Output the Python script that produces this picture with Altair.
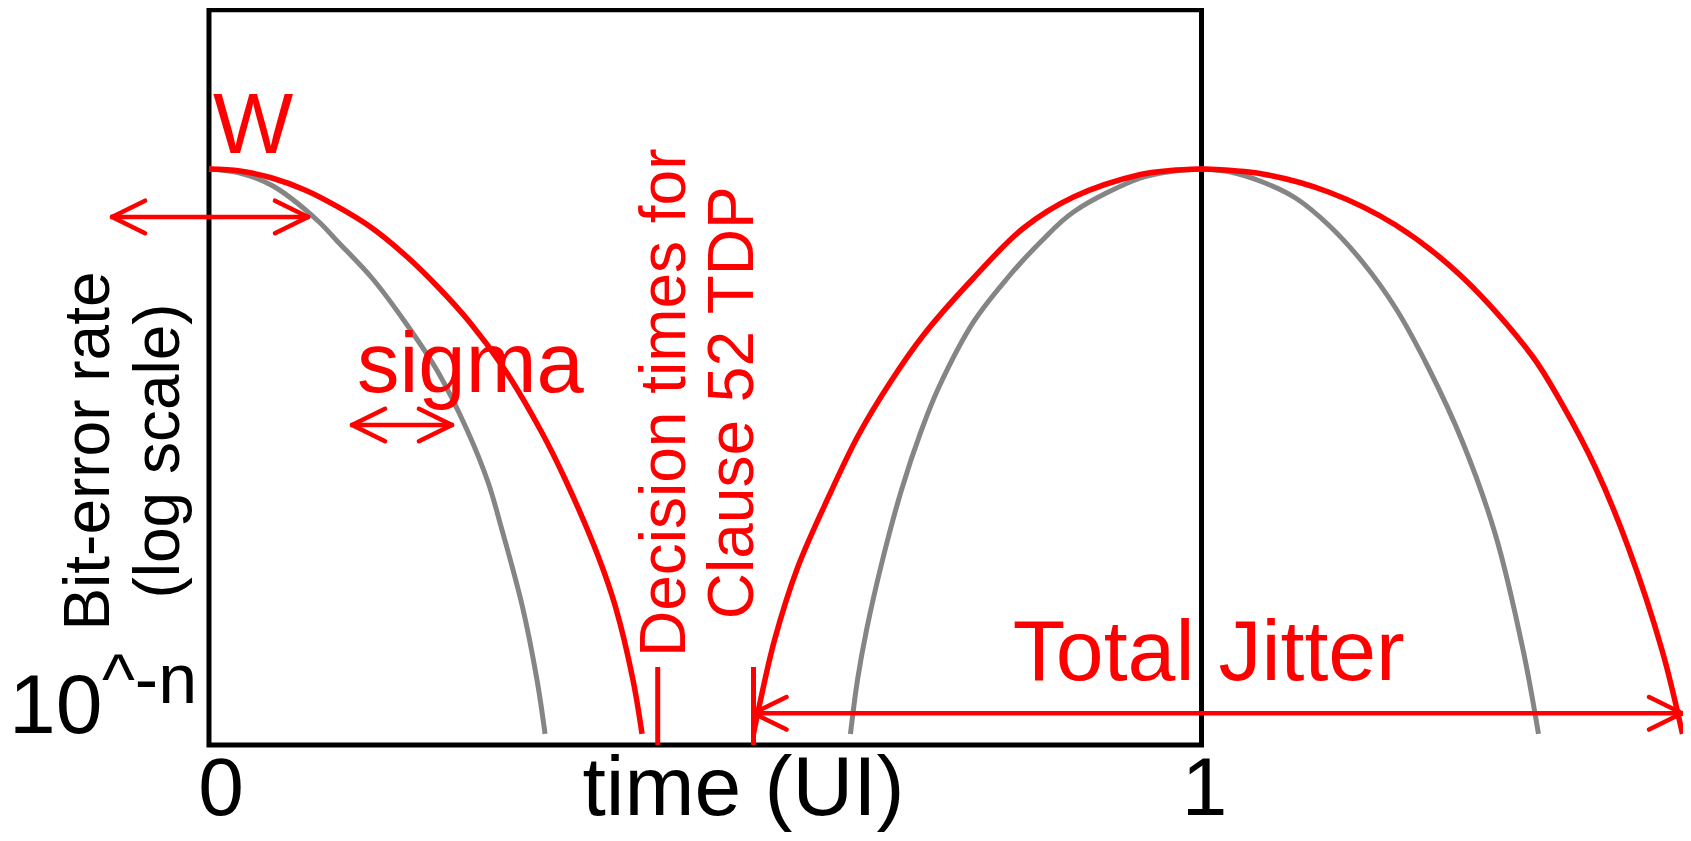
import altair as alt
import pandas as pd

# Data units: x = time in UI, y = relative log-BER level (0 = 10^-n floor, 1 = top of frame)
X_DOMAIN = [-0.2025, 1.4851]
Y_DOMAIN = [-0.1197, 1.0023]

# ---- bathtub curves ----
GRAY_L0_T = [0.0, 0.0312, 0.0645, 0.1088, 0.1300, 0.1642, 0.1975, 0.2307, 0.2600, 0.2811, 0.2952, 0.3154, 0.3305, 0.3386]
GRAY_L0_LVL = [0.7833, 0.7779, 0.7602, 0.7140, 0.6841, 0.6351, 0.5753, 0.5073, 0.4284, 0.3577, 0.2924, 0.1904, 0.0884, 0.0150]

RED_L0_T = [0.0, 0.0312, 0.0635, 0.0967, 0.1300, 0.1642, 0.1975, 0.2307, 0.2625, 0.2962, 0.3340, 0.3592, 0.3924, 0.4096, 0.4272, 0.4363]
RED_L0_LVL = [0.7833, 0.7806, 0.7711, 0.7548, 0.7317, 0.7031, 0.6664, 0.6229, 0.5753, 0.5141, 0.4284, 0.3604, 0.2557, 0.1877, 0.0884, 0.0150]

GRAY_R1L_T = [1.0, 0.9688, 0.9385, 0.8710, 0.8378, 0.8045, 0.7703, 0.7350, 0.7179, 0.6977, 0.6786, 0.6625, 0.6534, 0.6463]
GRAY_R1L_LVL = [0.7833, 0.7800, 0.7711, 0.7249, 0.6841, 0.6351, 0.5753, 0.4855, 0.4284, 0.3468, 0.2516, 0.1564, 0.0884, 0.0150]

RED_R1L_T = [1.0, 0.9688, 0.9385, 0.8710, 0.8207, 0.7703, 0.7199, 0.6866, 0.6544, 0.6242, 0.5929, 0.5698, 0.5557, 0.5486]
RED_R1L_LVL = [0.7833, 0.7813, 0.7759, 0.7453, 0.7031, 0.6351, 0.5576, 0.4937, 0.4216, 0.3373, 0.2407, 0.1428, 0.0612, 0.0150]

GRAY_R1R_T = [1.0, 1.0292, 1.0615, 1.0947, 1.1280, 1.1622, 1.1955, 1.2287, 1.2630, 1.2962, 1.3244, 1.3395]
GRAY_R1R_LVL = [0.7833, 0.7793, 0.7657, 0.7439, 0.7072, 0.6569, 0.5943, 0.5127, 0.4121, 0.2856, 0.1265, 0.0150]

RED_R1R_T = [1.0, 1.0615, 1.1280, 1.1955, 1.2605, 1.3325, 1.3637, 1.3970, 1.4302, 1.4645, 1.4846]
RED_R1R_LVL = [0.7833, 0.7766, 0.7521, 0.7072, 0.6392, 0.5304, 0.4624, 0.3767, 0.2679, 0.1265, 0.0150]

# ---- decision times (UI) and marker height ----
DECISION_T = [0.4521, 0.5486]
DECISION_TOP = 0.1061

# ---- arrows: tips and level in data units ----
ARROW_A = [-0.0977, 0.1441, 0.5486]
ARROW_B = [0.0998, 0.2448, 1.4842]
ARROW_LVL = [0.7181, 0.4352, 0.0431]
HEAD_LEN = 0.0333
HEAD_HALF = 0.0221

RED = "#ff0000"
GRAY = "#858585"
FONT = "Liberation Sans"


def X(field):
    return alt.X(field, type="quantitative",
                 scale=alt.Scale(domain=X_DOMAIN, nice=False, zero=False), axis=None)


def Y(field):
    return alt.Y(field, type="quantitative",
                 scale=alt.Scale(domain=Y_DOMAIN, nice=False, zero=False), axis=None)


def curve_df(ts, ls, name):
    return pd.DataFrame({"t": ts, "lvl": ls, "curve": name})


gray_df = pd.concat([
    curve_df(GRAY_L0_T, GRAY_L0_LVL, "g0"),
    curve_df(GRAY_R1L_T, GRAY_R1L_LVL, "g1"),
    curve_df(GRAY_R1R_T, GRAY_R1R_LVL, "g2"),
])
red_df = pd.concat([
    curve_df(RED_L0_T, RED_L0_LVL, "r0"),
    curve_df(RED_R1L_T, RED_R1L_LVL, "r1"),
    curve_df(RED_R1R_T, RED_R1R_LVL, "r2"),
])

gray = alt.Chart(gray_df).mark_line(color=GRAY, strokeWidth=5, interpolate="catmull-rom").encode(
    x=X("t"), y=Y("lvl"), detail="curve:N", order="t:Q")
red = alt.Chart(red_df).mark_line(color=RED, strokeWidth=5.5, interpolate="catmull-rom").encode(
    x=X("t"), y=Y("lvl"), detail="curve:N", order="t:Q")

# frame 0..1 UI, floor..top
box_df = pd.DataFrame({"t": [0.0], "t2": [1.0], "lvl": [0.0], "lvl2": [1.0]})
box = alt.Chart(box_df).mark_rect(fillOpacity=0, stroke="black", strokeWidth=5).encode(
    x=X("t"), x2="t2", y=Y("lvl"), y2="lvl2")

# arrows built from tips
segs = []
for a, b, lv in zip(ARROW_A, ARROW_B, ARROW_LVL):
    segs.append((a, lv, b, lv))
    for tip, sgn in ((a, 1), (b, -1)):
        segs.append((tip, lv, tip + sgn * HEAD_LEN, lv + HEAD_HALF))
        segs.append((tip, lv, tip + sgn * HEAD_LEN, lv - HEAD_HALF))
seg_df = pd.DataFrame(segs, columns=["t", "lvl", "t2", "lvl2"])
arrows = alt.Chart(seg_df).mark_rule(color=RED, strokeWidth=4.5, strokeCap="round").encode(
    x=X("t"), x2="t2", y=Y("lvl"), y2="lvl2")

tick_df = pd.DataFrame({"t": DECISION_T, "lvl": [0.0] * len(DECISION_T),
                        "lvl2": [DECISION_TOP] * len(DECISION_T)})
ticks = alt.Chart(tick_df).mark_rule(color=RED, strokeWidth=5).encode(
    x=X("t"), y=Y("lvl"), y2="lvl2")

# annotations: (text, t, lvl, size, angle, align, color)
ANNOTATIONS = [
    ("W", 0.0040, 0.8051, 85, 0, "left", RED),
    ("sigma", 0.1491, 0.4801, 85, 0, "left", RED),
    ("Bit-error rate", -0.1004, 0.3998, 64, 270, "center", "black"),
    ("(log scale)", -0.0306, 0.3998, 64, 270, "center", "black"),
    ("Decision times for", 0.4796, 0.4654, 64, 270, "center", RED),
    ("Clause 52 TDP", 0.5481, 0.4654, 64, 270, "center", RED),
    ("10", -0.2014, 0.0163, 84, 0, "left", "black"),
    ("^-n", -0.1078, 0.0571, 70, 0, "left", "black"),
    ("0", 0.0121, -0.0952, 82, 0, "center", "black"),
    ("1", 1.0031, -0.0952, 82, 0, "center", "black"),
    ("time (UI)", 0.5385, -0.0952, 84, 0, "center", "black"),
    ("Total Jitter", 0.8099, 0.0884, 86, 0, "left", RED),
]

texts = []
for txt, t, lv, size, ang, align, col in ANNOTATIONS:
    texts.append(
        alt.Chart(pd.DataFrame({"t": [t], "lvl": [lv]})).mark_text(
            text=txt, fontSize=size, angle=ang, align=align, baseline="alphabetic",
            font=FONT, color=col
        ).encode(x=X("t"), y=Y("lvl"))
    )

chart = alt.layer(box, gray, red, ticks, arrows, *texts).properties(
    width=1675, height=825, padding=0,
    autosize=alt.AutoSizeParams(type="none"),
).configure_view(strokeWidth=0)

chart.save("out.html", embed_options={"renderer": "svg", "actions": False})
